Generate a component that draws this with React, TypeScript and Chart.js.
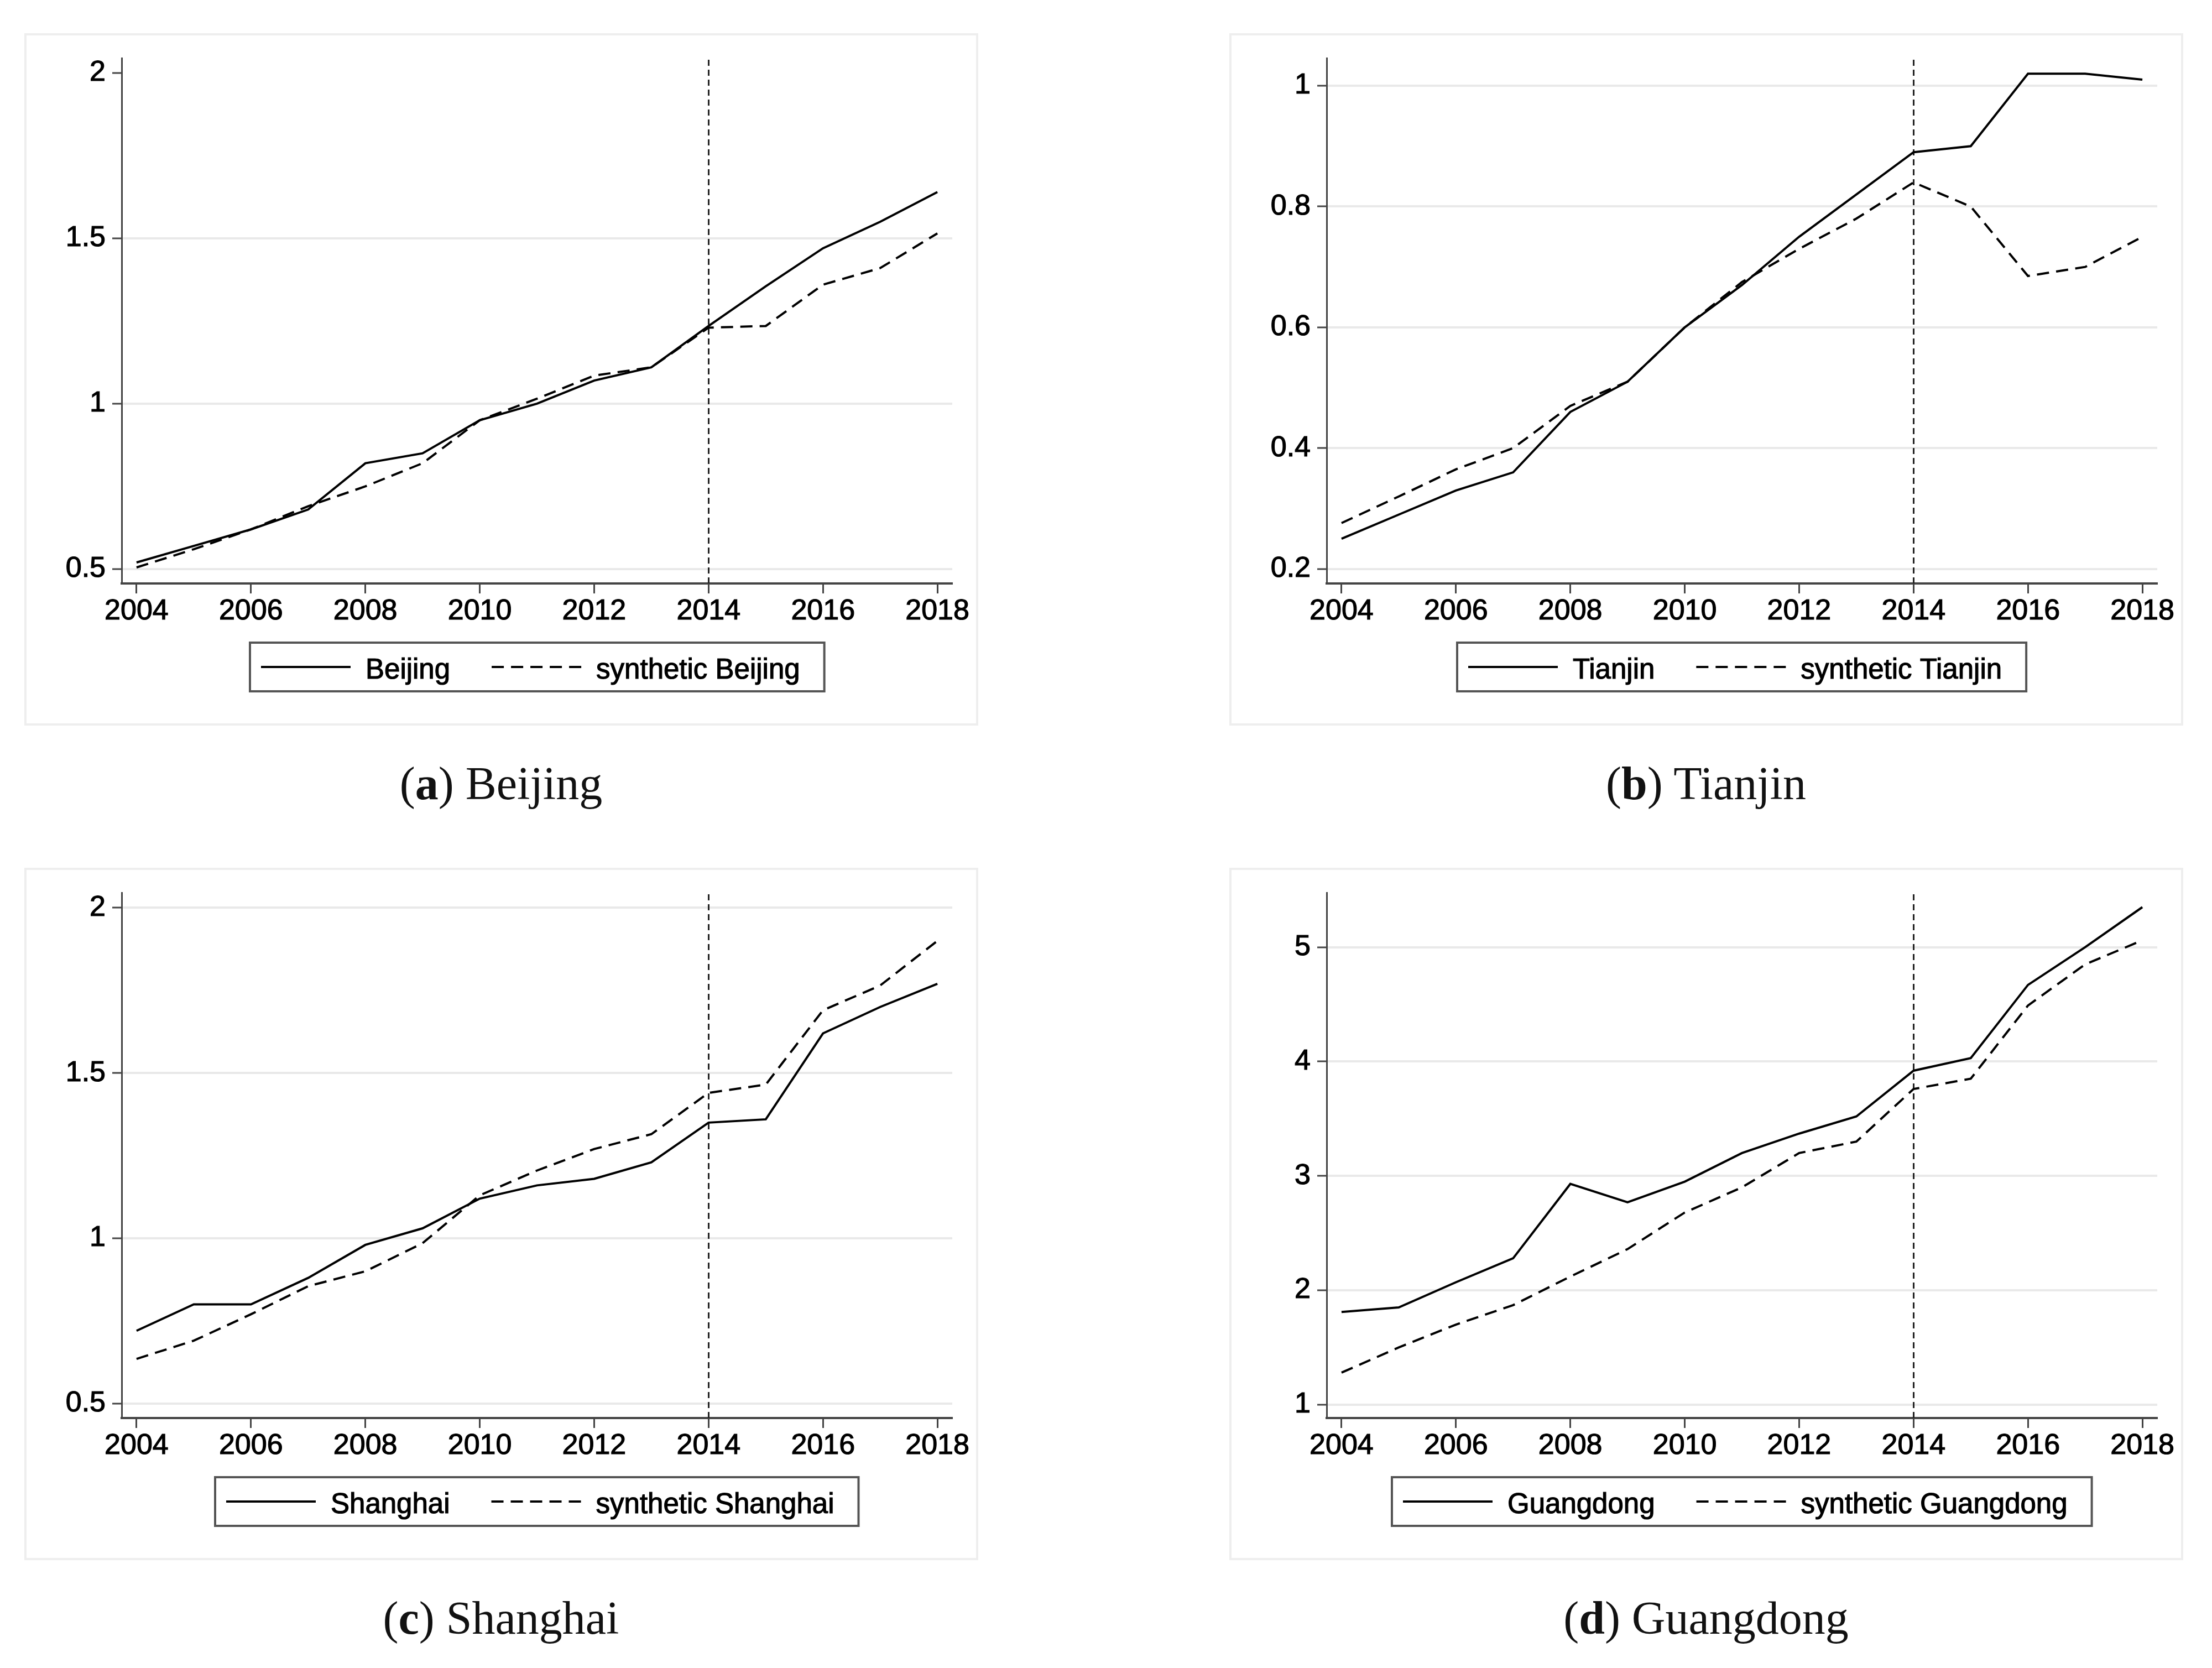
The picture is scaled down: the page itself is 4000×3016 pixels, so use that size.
import React, { useEffect, useRef } from "react";
import { Chart, registerables } from "chart.js";

Chart.register(...registerables);

// ---------- data ----------
const years = [2004, 2005, 2006, 2007, 2008, 2009, 2010, 2011, 2012, 2013, 2014, 2015, 2016, 2017, 2018];
const xTicks = [2004, 2006, 2008, 2010, 2012, 2014, 2016, 2018];
const treatmentYear = 2014;

const beijing = [0.52, 0.57, 0.62, 0.68, 0.82, 0.85, 0.95, 1.0, 1.07, 1.11, 1.235, 1.355, 1.47, 1.55, 1.64];
const synthBeijing = [0.505, 0.56, 0.62, 0.69, 0.75, 0.82, 0.95, 1.015, 1.085, 1.11, 1.23, 1.235, 1.36, 1.41, 1.515];

const tianjin = [0.25, 0.29, 0.33, 0.36, 0.46, 0.51, 0.6, 0.67, 0.75, 0.82, 0.89, 0.9, 1.02, 1.02, 1.01];
const synthTianjin = [0.276, 0.32, 0.365, 0.4, 0.47, 0.51, 0.6, 0.675, 0.73, 0.78, 0.84, 0.8, 0.685, 0.7, 0.75];

const shanghai = [0.72, 0.8, 0.8, 0.88, 0.98, 1.03, 1.12, 1.16, 1.18, 1.23, 1.35, 1.36, 1.62, 1.7, 1.77];
const synthShanghai = [0.635, 0.69, 0.77, 0.855, 0.9, 0.985, 1.13, 1.205, 1.27, 1.315, 1.44, 1.465, 1.69, 1.765, 1.9];

const guangdong = [1.81, 1.85, 2.07, 2.28, 2.93, 2.77, 2.95, 3.2, 3.37, 3.52, 3.92, 4.03, 4.67, 5.0, 5.35];
const synthGuangdong = [1.28, 1.5, 1.7, 1.87, 2.12, 2.36, 2.68, 2.9, 3.2, 3.3, 3.76, 3.85, 4.49, 4.85, 5.06];

const yTicksBeijing = [0.5, 1, 1.5, 2];
const yTicksTianjin = [0.2, 0.4, 0.6, 0.8, 1];
const yTicksShanghai = [0.5, 1, 1.5, 2];
const yTicksGuangdong = [1, 2, 3, 4, 5];

const yRangeBeijing = [0.4565, 2.045];
const yRangeTianjin = [0.176, 1.0458];
const yRangeShanghai = [0.456, 2.046];
const yRangeGuangdong = [0.883, 5.477];
const xRange = [2003.74, 2018.26];

// ---------- styling ----------
const SANS = "'Liberation Sans', Arial, Helvetica, sans-serif";
const SERIF = "'Liberation Serif', 'Times New Roman', serif";
const CW = 1725;
const CH = 1252;
const INK = "#000000";

const framePlugin = {
  id: "frame",
  beforeDraw(chart: any) {
    const { ctx, width, height } = chart;
    ctx.save();
    ctx.fillStyle = "#ffffff";
    ctx.fillRect(0, 0, width, height);
    ctx.strokeStyle = "#eeeeee";
    ctx.lineWidth = 4;
    ctx.strokeRect(2, 2, width - 4, height - 4);
    ctx.restore();
  },
};

const vlinePlugin = {
  id: "vline",
  beforeDatasetsDraw(chart: any) {
    const { ctx, chartArea, scales } = chart;
    const x = Math.round(scales.x.getPixelForValue(treatmentYear)) + 0.5;
    ctx.save();
    ctx.strokeStyle = "#222222";
    ctx.lineWidth = 3;
    ctx.setLineDash([11, 7]);
    ctx.beginPath();
    ctx.moveTo(x, chartArea.top + 3);
    ctx.lineTo(x, chartArea.bottom);
    ctx.stroke();
    ctx.restore();
  },
};

const legendPlugin = {
  id: "boxLegend",
  afterDraw(chart: any) {
    const { ctx, chartArea } = chart;
    ctx.save();
    ctx.font = `51px ${SANS}`;
    const items = chart.data.datasets.map((ds: any) => ({
      label: ds.label as string,
      dash: (ds.borderDash || []) as number[],
      w: ctx.measureText(ds.label).width,
    }));
    const padL = 20, sample = 162, gapST = 27, gapItems = 75, padR = 44;
    let total = padL + padR + gapItems * (items.length - 1);
    items.forEach((it: any) => (total += sample + gapST + it.w));
    const cx = (chartArea.left + chartArea.right) / 2;
    const x0 = Math.round(cx - total / 2);
    const top = chartArea.bottom + 107;
    const h = 88;
    ctx.strokeStyle = "#555555";
    ctx.lineWidth = 4;
    ctx.strokeRect(x0, top, total, h);
    let x = x0 + padL;
    const cy = top + h / 2;
    items.forEach((it: any) => {
      ctx.strokeStyle = INK;
      ctx.lineWidth = 4;
      ctx.setLineDash(it.dash);
      ctx.beginPath();
      ctx.moveTo(x, cy);
      ctx.lineTo(x + sample, cy);
      ctx.stroke();
      ctx.setLineDash([]);
      x += sample + gapST;
      ctx.fillStyle = INK;
      ctx.strokeStyle = INK;
      ctx.lineWidth = 1.2;
      ctx.textAlign = "left";
      ctx.textBaseline = "alphabetic";
      ctx.fillText(it.label, x, top + 65);
      ctx.strokeText(it.label, x, top + 65);
      x += it.w + gapItems;
    });
    ctx.restore();
  },
};

type PanelProps = {
  left: number;
  top: number;
  name: string;
  actual: number[];
  synth: number[];
  yTicks: number[];
  yRange: number[];
  hideGrid?: number[];
};

function Panel({ left, top, name, actual, synth, yTicks, yRange, hideGrid = [] }: PanelProps) {
  const ref = useRef<HTMLCanvasElement>(null);
  useEffect(() => {
    const tickFont = { family: SANS, size: 52 };
    const chart = new Chart(ref.current as HTMLCanvasElement, {
      type: "line",
      data: {
        datasets: [
          {
            label: name,
            data: years.map((yr, i) => ({ x: yr, y: actual[i] })),
            borderColor: INK,
            borderWidth: 4,
            pointRadius: 0,
            tension: 0,
            fill: false,
          },
          {
            label: "synthetic " + name,
            data: years.map((yr, i) => ({ x: yr, y: synth[i] })),
            borderColor: INK,
            borderWidth: 4,
            borderDash: [22, 13],
            pointRadius: 0,
            tension: 0,
            fill: false,
          },
        ],
      },
      options: {
        animation: false,
        responsive: false,
        devicePixelRatio: 1,
        layout: { padding: { top: 45, right: 47, left: 0, bottom: 127 } },
        plugins: { legend: { display: false }, tooltip: { enabled: false } },
        scales: {
          x: {
            type: "linear",
            min: xRange[0],
            max: xRange[1],
            afterBuildTicks: (s: any) => {
              s.ticks = xTicks.map((v) => ({ value: v }));
            },
            afterFit: (s: any) => {
              s.height = 130;
            },
            grid: { drawOnChartArea: false, tickLength: 18, tickColor: "#444444", tickWidth: 3 },
            border: { color: "#444444", width: 4 },
            ticks: {
              font: tickFont,
              color: INK,
              textStrokeColor: INK,
              textStrokeWidth: 1.2,
              padding: 1,
              autoSkip: false,
              maxRotation: 0,
              minRotation: 0,
              callback: (v: any) => String(v),
            },
          },
          y: {
            type: "linear",
            min: yRange[0],
            max: yRange[1],
            afterBuildTicks: (s: any) => {
              s.ticks = yTicks.map((v) => ({ value: v }));
            },
            afterFit: (s: any) => {
              s.width = 176;
            },
            grid: {
              color: (c: any) => (c.tick && hideGrid.includes(c.tick.value) ? "rgba(0,0,0,0)" : "#e9e9e9"),
              lineWidth: 4,
              tickLength: 17,
              tickColor: "#444444",
              tickWidth: 3,
            },
            border: { color: "#444444", width: 3 },
            ticks: {
              font: tickFont,
              color: INK,
              textStrokeColor: INK,
              textStrokeWidth: 1.2,
              padding: 12,
              autoSkip: false,
              callback: (v: any) => String(v),
            },
          },
        },
      } as any,
      plugins: [framePlugin, vlinePlugin, legendPlugin],
    });
    return () => chart.destroy();
  }, []);
  return (
    <canvas
      ref={ref}
      width={CW}
      height={CH}
      style={{ position: "absolute", left, top, width: CW, height: CH }}
    />
  );
}

function Caption({ cx, top, letter, name }: { cx: number; top: number; letter: string; name: string }) {
  return (
    <div
      style={{
        position: "absolute",
        left: cx - 700,
        top,
        width: 1400,
        textAlign: "center",
        fontFamily: SERIF,
        fontSize: 84,
        lineHeight: "84px",
        color: "#111111",
        whiteSpace: "nowrap",
      }}
    >
      (<b>{letter}</b>) {name}
    </div>
  );
}

export default function App() {
  return (
    <div
      style={{
        position: "absolute",
        left: 0,
        top: 0,
        width: 4000,
        height: 3016,
        background: "#ffffff",
        overflow: "hidden",
      }}
    >
      <Panel left={44} top={60} name="Beijing" actual={beijing} synth={synthBeijing} yTicks={yTicksBeijing} yRange={yRangeBeijing} hideGrid={[2]} />
      <Panel left={2223} top={60} name="Tianjin" actual={tianjin} synth={synthTianjin} yTicks={yTicksTianjin} yRange={yRangeTianjin} />
      <Panel left={44} top={1569} name="Shanghai" actual={shanghai} synth={synthShanghai} yTicks={yTicksShanghai} yRange={yRangeShanghai} />
      <Panel left={2223} top={1569} name="Guangdong" actual={guangdong} synth={synthGuangdong} yTicks={yTicksGuangdong} yRange={yRangeGuangdong} />
      <Caption cx={906} top={1375} letter="a" name="Beijing" />
      <Caption cx={3085} top={1375} letter="b" name="Tianjin" />
      <Caption cx={906} top={2884} letter="c" name="Shanghai" />
      <Caption cx={3085} top={2884} letter="d" name="Guangdong" />
    </div>
  );
}
